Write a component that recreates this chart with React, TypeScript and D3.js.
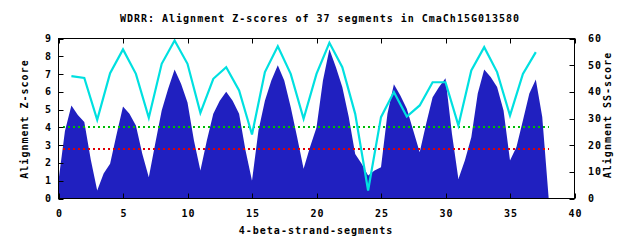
import React from "react";
import * as d3 from "d3";

const title = "WDRR: Alignment Z-scores of 37 segments in CmaCh15G013580";
const xLabel = "4-beta-strand-segments";
const yLabel = "Alignment Z-score";
const y2Label = "Alignment SS-score";

const zPos = [
  0, 0.5, 1, 1.5, 2, 2.5, 3, 3.5, 4, 4.5, 5, 5.5, 6, 6.5, 7, 7.5, 8, 8.5, 9, 9.5,
  10, 10.5, 11, 11.5, 12, 12.5, 13, 13.5, 14, 14.5, 15, 15.5, 16, 16.5, 17, 17.5,
  18, 18.5, 19, 19.5, 20, 20.5, 21, 21.5, 22, 22.5, 23, 23.5, 24, 24.5, 25, 25.5,
  26, 26.5, 27, 27.5, 28, 28.5, 29, 29.5, 30, 30.5, 31, 31.5, 32, 32.5, 33, 33.5,
  34, 34.5, 35, 35.5, 36, 36.5, 37, 37.5, 38,
];
const zScores = [
  1.0, 3.8, 5.23, 4.7, 4.3, 2.2, 0.45, 1.4, 1.95, 3.6, 5.18, 4.77, 4.1, 2.5, 1.2, 3.1,
  4.95, 6.17, 7.26, 6.45, 5.4, 3.26, 1.58, 3.26, 4.77, 5.5, 6.0, 5.5, 4.77, 2.7, 1.0,
  3.83, 5.5, 6.64, 7.5, 6.64, 5.14, 3.45, 1.67, 2.89, 4.0, 6.64, 8.39, 7.4, 6.27, 4.58,
  2.5, 1.95, 1.29, 1.58, 1.76, 4.77, 6.42, 5.8, 5.05, 3.83, 2.6, 4.2, 5.7, 6.27, 6.77,
  3.64, 1.1, 2.14, 3.45, 5.9, 7.26, 6.83, 6.27, 4.95, 2.14, 2.89, 4.39, 5.9, 6.7, 4.58, 0,
];

const ssPos = d3.range(1, 38);
const ssScores = [
  45.9, 45.2, 29.5, 47, 55.9, 46.75, 30.25, 50.5, 59.25, 50.5, 32.1, 44.9, 49.25, 40.5,
  24, 47.4, 57.1, 46.75, 29.9, 46.75, 58.4, 49.25, 31.75, 3.0, 30.5, 39.9, 30.75, 34.9,
  43.6, 43.6, 27.4, 48, 56.75, 47.4, 31.1, 46.75, 54.9,
];

const thresholdHigh = 4.03;
const thresholdLow = 2.76;
const thresholdRange = [0, 38];

const xTicks = [0, 5, 10, 15, 20, 25, 30, 35, 40];
const yTicks = [0, 1, 2, 3, 4, 5, 6, 7, 8, 9];
const y2Ticks = [0, 10, 20, 30, 40, 50, 60];

const FONT = "'DejaVu Sans Mono', monospace";

export default function App() {
  const L = 58.5, R = 574.5, T = 38.5, B = 198.5;
  const x = d3.scaleLinear().domain([0, 40]).range([L, R]);
  const y = d3.scaleLinear().domain([0, 9]).range([B, T]);
  const y2 = d3.scaleLinear().domain([0, 60]).range([B, T]);

  const zData = zPos.map((p, i) => ({ p, v: zScores[i] }));
  const ssData = ssPos.map((p, i) => ({ p, v: ssScores[i] }));

  const area = d3
    .area<{ p: number; v: number }>()
    .x((d) => x(d.p))
    .y0(B - 0.5)
    .y1((d) => y(d.v));
  const line = d3
    .line<{ p: number; v: number }>()
    .x((d) => x(d.p))
    .y((d) => y2(d.v));

  const textStyle: React.CSSProperties = {
    fontFamily: FONT,
    fontWeight: "bold",
    fontSize: 10,
    letterSpacing: 1,
  };

  return (
    <svg
      width={640}
      height={240}
      style={{ position: "absolute", left: 0, top: 0, background: "#fff" }}
    >
      <rect x={0} y={0} width={640} height={240} fill="#fff" />
      <path d={area(zData) || ""} fill="#2020c0" />
      <line
        x1={Math.round(x(thresholdRange[0])) + 4}
        x2={x(thresholdRange[1])}
        y1={Math.round(y(thresholdHigh))}
        y2={Math.round(y(thresholdHigh))}
        stroke="#00c000"
        strokeWidth={2}
        strokeDasharray="2 3"
        shapeRendering="crispEdges"
      />
      <line
        x1={Math.round(x(thresholdRange[0])) + 4}
        x2={x(thresholdRange[1])}
        y1={Math.round(y(thresholdLow))}
        y2={Math.round(y(thresholdLow))}
        stroke="#e00000"
        strokeWidth={2}
        strokeDasharray="2 3"
        shapeRendering="crispEdges"
      />
      <path
        d={line(ssData) || ""}
        fill="none"
        stroke="#00e0e0"
        strokeWidth={2.2}
        strokeLinejoin="miter"
      />
      <rect x={L} y={T} width={R - L} height={B - T} fill="none" stroke="#000" strokeWidth={1} />
      {xTicks.map((t) => (
        <g key={"xt" + t}>
          <line x1={Math.round(x(t)) + 0.5} x2={Math.round(x(t)) + 0.5} y1={B} y2={B - 5} stroke="#000" />
          <line x1={Math.round(x(t)) + 0.5} x2={Math.round(x(t)) + 0.5} y1={T} y2={T + 5} stroke="#000" />
          <text x={x(t) + 1} y={216.5} textAnchor="middle" style={textStyle}>
            {t}
          </text>
        </g>
      ))}
      {yTicks.map((t) => (
        <g key={"yt" + t}>
          <line x1={L} x2={L + 5} y1={Math.round(y(t)) + 0.5} y2={Math.round(y(t)) + 0.5} stroke="#000" />
          <text x={52} y={y(t) + 3.5} textAnchor="end" style={textStyle}>
            {t}
          </text>
        </g>
      ))}
      {y2Ticks.map((t) => (
        <g key={"y2t" + t}>
          <line x1={R} x2={R - 5} y1={Math.round(y2(t)) + 0.5} y2={Math.round(y2(t)) + 0.5} stroke="#000" />
          <text x={588} y={y2(t) + 3.5} textAnchor="start" style={textStyle}>
            {t}
          </text>
        </g>
      ))}
      <text x={320} y={22} textAnchor="middle" style={textStyle}>
        {title}
      </text>
      <text x={316} y={233.5} textAnchor="middle" style={textStyle}>
        {xLabel}
      </text>
      <text transform={`translate(28,119) rotate(-90)`} textAnchor="middle" style={textStyle}>
        {yLabel}
      </text>
      <text transform={`translate(611,115) rotate(-90)`} textAnchor="middle" style={textStyle}>
        {y2Label}
      </text>
    </svg>
  );
}
